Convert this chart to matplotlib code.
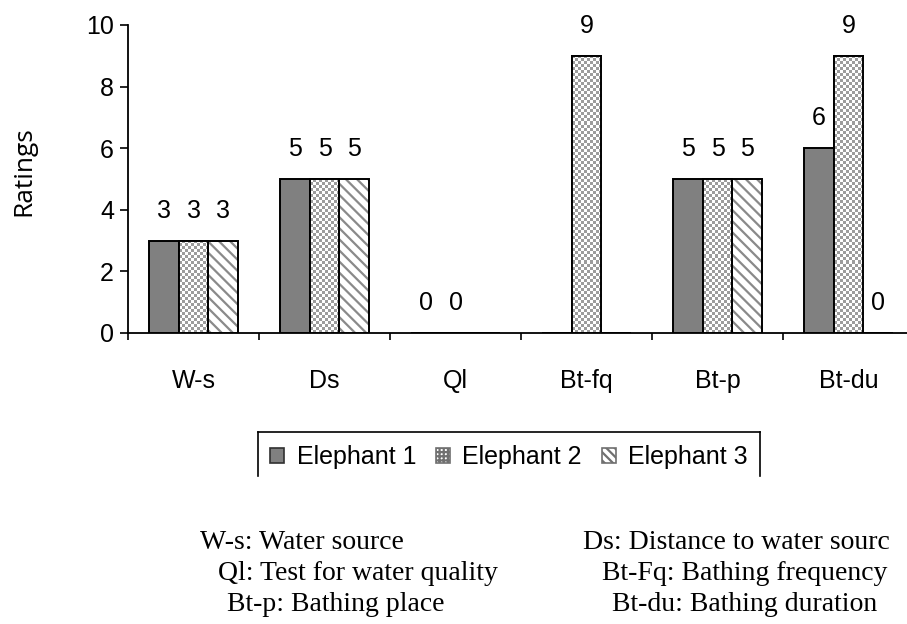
import numpy as np
import matplotlib
matplotlib.use("Agg")
import matplotlib.pyplot as plt
from matplotlib.colors import ListedColormap
from matplotlib.patches import Patch
from matplotlib.lines import Line2D

categories = ["W-s", "Ds", "Ql", "Bt-fq", "Bt-p", "Bt-du"]
series_names = ["Elephant 1", "Elephant 2", "Elephant 3"]
elephant1 = [3, 5, 0, np.nan, 5, 6]
elephant2 = [3, 5, 0, 9, 5, 9]
elephant3 = [3, 5, np.nan, np.nan, 5, 0]
yticks = [0, 2, 4, 6, 8, 10]
notes_left = ["W-s: Water source", "Ql: Test for water quality", "Bt-p: Bathing place"]
notes_right = ["Ds: Distance to water sourc", "Bt-Fq: Bathing frequency", "Bt-du: Bathing duration"]

SANS = "Liberation Sans"
SERIF = "Liberation Serif"
FS = 18
plt.rcParams["font.family"] = [SANS, "DejaVu Sans"]
plt.rcParams["hatch.linewidth"] = 1.6

W, H = 907, 624
fig = plt.figure(figsize=(W / 100, H / 100), dpi=100)
ax = fig.add_axes([128 / W, 1 - 333 / H, 786 / W, 308 / H])

x = np.arange(len(categories))
bw = 0.225
xlim = (-0.5, len(categories) - 0.5)
ylim = (0, 10)
ax.set_xlim(*xlim)
ax.set_ylim(*ylim)

lw = 1.4
# Elephant 1: solid gray
b1 = ax.bar(x - bw, np.nan_to_num(elephant1), bw, color="#808080", edgecolor="black", linewidth=lw, zorder=3)
# Elephant 2: checkerboard texture
b2 = ax.bar(x, np.nan_to_num(elephant2), bw, color="white", edgecolor="black", linewidth=lw, zorder=3)
# Elephant 3: diagonal stripes
b3h = ax.bar(x + bw, np.nan_to_num(elephant3), bw, color="white", edgecolor="#8a8a8a", linewidth=0, hatch="\\\\\\", zorder=3)
b3 = ax.bar(x + bw, np.nan_to_num(elephant3), bw, fill=False, edgecolor="black", linewidth=lw, zorder=5)

cmap = ListedColormap(["white", "#9c9c9c"])
cell = 3.0
for bar in b2:
    h = bar.get_height()
    if not h:
        continue
    x0, w = bar.get_x(), bar.get_width()
    p0 = ax.transData.transform((x0, 0))
    p1 = ax.transData.transform((x0 + w, h))
    nx = max(1, int(round((p1[0] - p0[0]) / cell)))
    ny = max(1, int(round((p1[1] - p0[1]) / cell)))
    arr = (np.add.outer(np.arange(ny), np.arange(nx)) % 2).astype(float)
    im = ax.imshow(arr, extent=(x0, x0 + w, 0, h), cmap=cmap, interpolation="nearest",
                   aspect="auto", zorder=3.5, origin="lower")
    im.set_clip_path(bar)
# redraw outlines of Elephant 2 bars on top
ax.bar(x, np.nan_to_num(elephant2), bw, fill=False, edgecolor="black", linewidth=lw, zorder=5)
ax.set_xlim(*xlim)
ax.set_ylim(*ylim)

# data labels
for offs, vals in zip([-bw, 0, bw], [elephant1, elephant2, elephant3]):
    for xi, v in zip(x, vals):
        if np.isnan(v):
            continue
        ax.annotate(f"{int(v)}", (xi + offs, v), xytext=(0, 21.5), textcoords="offset points",
                    ha="center", va="center", fontsize=FS, annotation_clip=False)

# axes styling
for s in ["top", "right"]:
    ax.spines[s].set_visible(False)
ax.spines["left"].set_linewidth(1.3)
ax.spines["bottom"].set_linewidth(1.3)
ax.set_yticks(yticks)
ax.tick_params(axis="y", direction="out", length=6, width=1.2, pad=4, labelsize=FS)
ax.set_xticks(x, categories)
ax.tick_params(axis="x", which="major", length=0, pad=26, labelsize=FS)
ax.set_xticks(np.arange(len(categories) + 1) - 0.5, minor=True)
ax.tick_params(axis="x", which="minor", direction="out", length=5, width=1.2)

fig.text(24 / W, 1 - 171 / H, "Ratings", rotation=90, ha="center", va="center",
         fontsize=19, family=["Open Sans", "DejaVu Sans"])

# legend
handles = [
    Patch(facecolor="#808080", edgecolor="#303030", linewidth=1.2),
    Patch(facecolor="white", edgecolor="#707070", linewidth=1.2, hatch="++++"),
    Patch(facecolor="white", edgecolor="#707070", linewidth=1.2, hatch="\\\\\\\\"),
]
leg = fig.legend(handles, series_names, loc="center", bbox_to_anchor=(509 / W, 1 - 457 / H),
                 ncol=3, frameon=False, fontsize=FS, handlelength=0.55, handleheight=0.55,
                 handletextpad=0.5, columnspacing=0.8, borderpad=0)
for xs, ys in [([258, 760], [432, 432]), ([258, 258], [432, 476]), ([760, 760], [432, 476])]:
    fig.add_artist(Line2D([v / W for v in xs], [1 - v / H for v in ys], color="black", linewidth=1.2))

# notes
left_x = [200, 218, 227]
right_x = [583, 602, 612]
base_y = [549, 580, 611]
for t, xx, yy in zip(notes_left, left_x, base_y):
    fig.text(xx / W, 1 - yy / H, t, ha="left", va="baseline", fontsize=20, family=[SERIF, "DejaVu Serif"])
for t, xx, yy in zip(notes_right, right_x, base_y):
    fig.text(xx / W, 1 - yy / H, t, ha="left", va="baseline", fontsize=20, family=[SERIF, "DejaVu Serif"])

fig.savefig("out.png", dpi=100)
